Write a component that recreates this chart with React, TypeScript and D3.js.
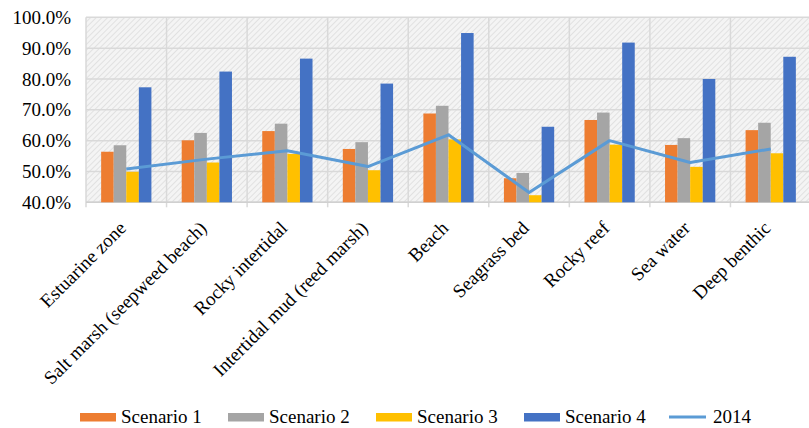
import * as d3 from "d3"

const categories = [
  "Estuarine zone",
  "Salt marsh (seepweed beach)",
  "Rocky intertidal",
  "Intertidal mud (reed marsh)",
  "Beach",
  "Seagrass bed",
  "Rocky reef",
  "Sea water",
  "Deep benthic",
]
const scenario1 = [56.4, 60.1, 63.1, 57.3, 68.8, 47.8, 66.7, 58.6, 63.4]
const scenario2 = [58.5, 62.5, 65.5, 59.5, 71.3, 49.5, 69.1, 60.8, 65.8]
const scenario3 = [49.9, 52.9, 55.7, 50.4, 60.4, 42.3, 58.7, 51.5, 55.9]
const scenario4 = [77.3, 82.4, 86.6, 78.5, 94.9, 64.5, 91.8, 80.0, 87.2]
const line2014 = [50.8, 54.0, 56.7, 51.6, 61.9, 43.2, 60.0, 52.9, 57.3]
const yTicks = [40, 50, 60, 70, 80, 90, 100]

const seriesNames = ["Scenario 1", "Scenario 2", "Scenario 3", "Scenario 4"]
const barSeries = [scenario1, scenario2, scenario3, scenario4]
const colors = ["#ED7D31", "#A5A5A5", "#FFC000", "#4472C4"]
const lineColor = "#5B9BD5"

const W = 809, H = 428
const left = 86, right = 811, top = 17.3, bottom = 202.3
const font = "'Liberation Serif', 'Times New Roman', serif"

export default function App() {
  const x = d3.scaleBand<string>().domain(categories).range([left, right])
  const inner = d3.scaleBand<number>().domain([0, 1, 2, 3]).range([0, x.bandwidth() * 0.624])
  const groupOff = (x.bandwidth() - x.bandwidth() * 0.624) / 2
  const y = d3.scaleLinear().domain([40, 100]).range([bottom, top])
  const cx = (c: string) => (x(c) ?? 0) + x.bandwidth() / 2
  const line = d3.line<number>().x((_, i) => cx(categories[i])).y(d => y(d))
  const legendX = d3.scaleLinear().domain([0, 1]).range([80, 228])
  const legendItems = [...seriesNames, "2014"]

  return (
    <div style={{ position: "absolute", left: 0, top: 0 }}>
      <svg width={W} height={H} style={{ display: "block", background: "#fff" }}>
        <defs>
          <pattern id="hatch" width="4" height="4" patternUnits="userSpaceOnUse" patternTransform="rotate(45)">
            <rect width="4" height="4" fill="#f4f4f4" />
            <line x1="0" y1="0" x2="0" y2="4" stroke="#dcdcdc" strokeWidth="1.6" />
          </pattern>
        </defs>
        <rect x={left} y={top} width={right - left} height={bottom - top} fill="url(#hatch)" />
        {yTicks.map(t => (
          <line key={t} x1={left} x2={right} y1={y(t)} y2={y(t)} stroke="#d9d9d9" strokeWidth={1.5} />
        ))}
        {categories.map(c => (
          <line key={c} x1={x(c)} x2={x(c)} y1={top} y2={bottom + 5} stroke="#d9d9d9" strokeWidth={1.5} />
        ))}
        <line x1={left} x2={right} y1={bottom} y2={bottom} stroke="#d0d0d0" strokeWidth={1.5} />
        {categories.map((c, i) => (
          <g key={c}>
            {barSeries.map((s, k) => (
              <rect
                key={k}
                x={(x(c) ?? 0) + groupOff + (inner(k) ?? 0)}
                y={y(s[i])}
                width={inner.bandwidth()}
                height={bottom - y(s[i])}
                fill={colors[k]}
              />
            ))}
          </g>
        ))}
        <path d={line(line2014) || ""} fill="none" stroke={lineColor} strokeWidth={3} strokeLinejoin="round" />
        {yTicks.map(t => (
          <text key={t} x={71} y={y(t)} dy="0.35em" textAnchor="end" fontFamily={font} fontSize={19} fill="#000">
            {t.toFixed(1)}%
          </text>
        ))}
        {categories.map(c => (
          <text
            key={c}
            transform={`translate(${cx(c) + 1},${bottom + 27}) rotate(-45)`}
            textAnchor="end"
            fontFamily={font}
            fontSize={19}
            fill="#000"
          >
            {c}
          </text>
        ))}
        {legendItems.map((name, k) => {
          const lx = legendX(k)
          return (
            <g key={name}>
              {k < 4 ? (
                <rect x={lx} y={413} width={36} height={8.5} fill={colors[k]} />
              ) : (
                <line x1={lx - 3} x2={lx + 34} y1={417} y2={417} stroke={lineColor} strokeWidth={3} />
              )}
              <text x={lx + 41} y={423} fontFamily={font} fontSize={19} fill="#000">
                {name}
              </text>
            </g>
          )
        })}
      </svg>
    </div>
  )
}
